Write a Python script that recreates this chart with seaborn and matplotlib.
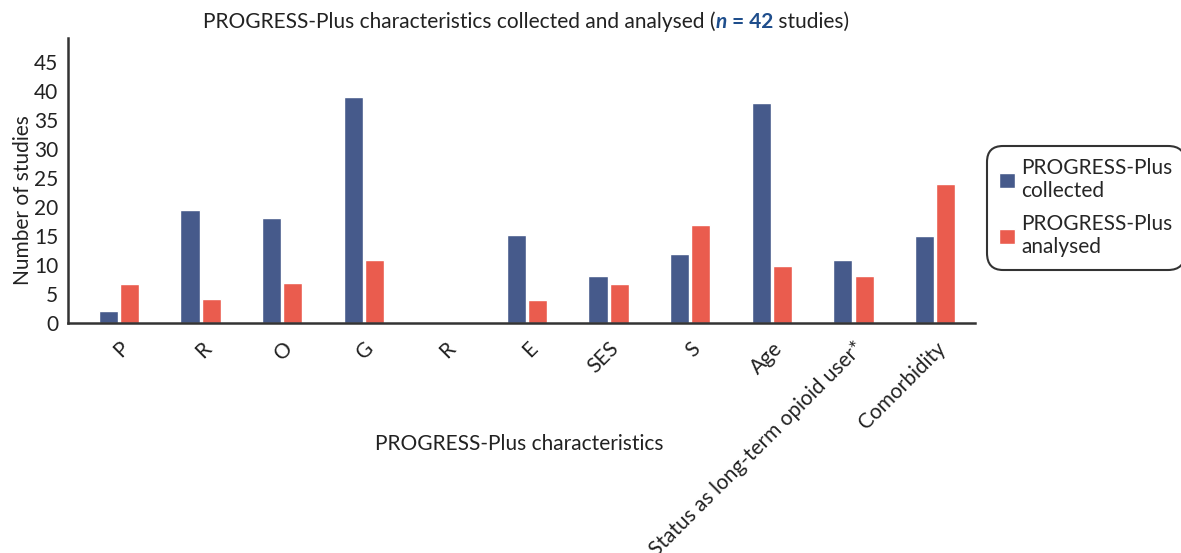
import pandas as pd
import matplotlib
matplotlib.use("Agg")
import matplotlib.pyplot as plt
import seaborn as sns

categories = ["P", "R", "O", "G", "R ", "E", "SES", "S", "Age",
              "Status as long-term opioid user*", "Comorbidity"]
tick_labels = ["P", "R", "O", "G", "R", "E", "SES", "S", "Age",
               "Status as long-term opioid user*", "Comorbidity"]
collected = [2, 19.5, 18.1, 39, 0, 15.2, 8.1, 11.9, 38, 10.9, 15]
analysed = [6.7, 4.1, 6.9, 10.9, 0, 4, 6.7, 16.9, 9.8, 8.1, 24]
series = ["PROGRESS-Plus\ncollected", "PROGRESS-Plus\nanalysed"]

BLUE = "#465a8b"
RED = "#ea5c4e"
DARK = "#333333"


def plot_progress_plus():
    sns.set_style("white")
    plt.rcParams["font.family"] = ["Lato", "DejaVu Sans"]
    plt.rcParams["font.size"] = 15

    df = pd.DataFrame({
        "cat": categories * 2,
        "value": collected + analysed,
        "series": [series[0]] * len(categories) + [series[1]] * len(categories),
    })

    fig = plt.figure(figsize=(11.81, 5.53), dpi=100)
    ax = fig.add_axes([0.0576, 0.416, 0.768, 0.515])

    sns.barplot(data=df, x="cat", y="value", hue="series", order=categories,
                hue_order=series, palette=[BLUE, RED], width=0.52, gap=0.1,
                saturation=1, ax=ax)

    ax.set_ylim(0, 49.2)
    ax.set_xlim(-0.625, 10.49)
    ax.set_yticks(range(0, 50, 5))
    ax.set_xticks(range(len(categories)))
    ax.set_xticklabels(tick_labels, rotation=45, ha="right",
                       rotation_mode="anchor")
    for s in ["top", "right"]:
        ax.spines[s].set_visible(False)
    for s in ["left", "bottom"]:
        ax.spines[s].set_color(DARK)
        ax.spines[s].set_linewidth(1.8)
    ax.tick_params(axis="both", which="both", direction="out", length=7,
                   width=1.8, color=DARK, labelsize=15, labelcolor="#222222")
    ax.tick_params(axis="y", length=5, pad=2)
    ax.tick_params(axis="x", pad=4)

    ax.set_xlabel("")
    ax.set_ylabel("Number of studies", fontsize=15, color="#222222")
    ax.yaxis.set_label_coords(-0.039, 0.43)
    fig.text(0.44, 0.198, "PROGRESS-Plus characteristics", ha="center",
             va="center", fontsize=15, color="#222222")

    leg = ax.legend(loc="center left", bbox_to_anchor=(1.006, 0.405),
                    frameon=True, fancybox=True, fontsize=15, handlelength=0.75,
                    handleheight=0.75, handletextpad=0.3, borderpad=0.4,
                    labelspacing=0.6)
    leg.get_frame().set_edgecolor("black")
    leg.get_frame().set_linewidth(1.5)
    leg.get_frame().set_boxstyle("round,pad=0.2,rounding_size=0.8")

    # title in pieces: normal text, bold blue "n = 42", normal text
    fig.canvas.draw()
    renderer = fig.canvas.get_renderer()
    pieces = [
        ("PROGRESS-Plus characteristics collected and analysed (", "#222222", "normal", "normal"),
        ("n", "#1f4e8c", "bold", "italic"),
        (" = 42", "#1f4e8c", "bold", "normal"),
        (" studies)", "#222222", "normal", "normal"),
    ]
    texts = []
    for txt, col, wt, st in pieces:
        t = fig.text(0.0, 0.96, txt, color=col, fontweight=wt, fontstyle=st,
                     fontsize=15, ha="left", va="center")
        texts.append(t)
    widths = [t.get_window_extent(renderer).width / fig.bbox.width for t in texts]
    start = 0.4455 - sum(widths) / 2
    for t, w in zip(texts, widths):
        t.set_x(start)
        start += w

    fig.savefig("out.png", dpi=100)
    plt.close(fig)


if __name__ == "__main__":
    plot_progress_plus()
